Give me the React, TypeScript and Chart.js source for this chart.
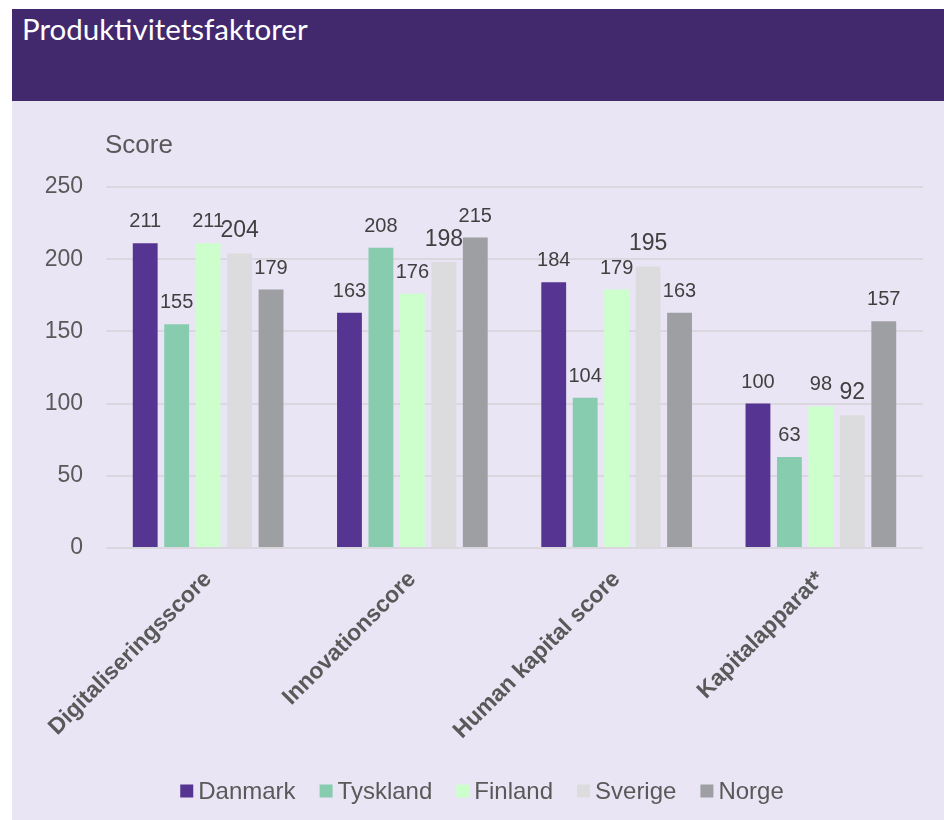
import React, { useEffect, useRef } from "react";
import { Chart, registerables } from "chart.js";

Chart.register(...registerables);

const headerTitle = "Produktivitetsfaktorer";
const axisTitle = "Score";
const categories = ["Digitaliseringsscore", "Innovationscore", "Human kapital score", "Kapitalapparat*"];
const countries = ["Danmark", "Tyskland", "Finland", "Sverige", "Norge"];
const danmark = [211, 163, 184, 100];
const tyskland = [155, 208, 104, 63];
const finland = [211, 176, 179, 98];
const sverige = [204, 198, 195, 92];
const norge = [179, 215, 163, 157];
const seriesColors = ["#563592", "#88ccb0", "#ccffcc", "#dcdcde", "#9e9fa3"];
const yMin = 0;
const yMax = 250;
const yStep = 50;

const FONT = '"Liberation Sans", Arial, sans-serif';
const GRID = "#dbd7df";
const TEXT = "#595959";

const valueLabels = {
  id: "valueLabels",
  afterDatasetsDraw(chart: any) {
    const ctx = chart.ctx;
    chart.data.datasets.forEach((ds: any, i: number) => {
      const meta = chart.getDatasetMeta(i);
      const size = i === 3 ? 23 : 20;
      ctx.save();
      ctx.font = `${size}px ${FONT}`;
      ctx.fillStyle = "#404040";
      ctx.textAlign = "center";
      ctx.textBaseline = "alphabetic";
      meta.data.forEach((bar: any, j: number) => {
        ctx.fillText(String(ds.data[j]), bar.x, bar.y - 16);
      });
      ctx.restore();
    });
  },
};

const scoreTitle = {
  id: "scoreTitle",
  afterDraw(chart: any) {
    const ctx = chart.ctx;
    const a = chart.chartArea;
    ctx.save();
    ctx.font = `26px ${FONT}`;
    ctx.fillStyle = TEXT;
    ctx.textAlign = "left";
    ctx.textBaseline = "alphabetic";
    ctx.fillText(axisTitle, a.left - 1, a.top - 34);
    ctx.restore();
  },
};

const customLegend = {
  id: "customLegend",
  afterDraw(chart: any) {
    const ctx = chart.ctx;
    const box = 13;
    const gapText = 5;
    const gapItem = 24;
    ctx.save();
    ctx.font = `24px ${FONT}`;
    const items = chart.data.datasets.map((ds: any) => ({
      label: ds.label,
      color: ds.backgroundColor,
      w: ctx.measureText(ds.label).width,
    }));
    const total =
      items.reduce((s: number, it: any) => s + box + gapText + it.w, 0) + gapItem * (items.length - 1);
    let x = chart.width / 2 + 4 - total / 2;
    const cy = chart.height - 29;
    ctx.textBaseline = "middle";
    ctx.textAlign = "left";
    items.forEach((it: any) => {
      ctx.fillStyle = it.color;
      ctx.fillRect(x, cy - box / 2, box, box);
      x += box + gapText;
      ctx.fillStyle = TEXT;
      ctx.fillText(it.label, x, cy + 1);
      x += it.w + gapItem;
    });
    ctx.restore();
  },
};

export default function App() {
  const ref = useRef<HTMLCanvasElement | null>(null);

  useEffect(() => {
    if (!ref.current) return;
    const series = [danmark, tyskland, finland, sverige, norge];
    const chart = new Chart(ref.current, {
      type: "bar",
      data: {
        labels: categories,
        datasets: countries.map((c, i) => ({
          label: c,
          data: series[i],
          backgroundColor: seriesColors[i],
          borderWidth: 0,
          categoryPercentage: 0.77,
          barPercentage: 0.79,
        })),
      },
      options: {
        animation: false,
        responsive: false,
        maintainAspectRatio: false,
        layout: { padding: { top: 86, right: 21, bottom: 60, left: 0 } },
        plugins: {
          legend: { display: false },
          tooltip: { enabled: false },
          title: { display: false },
        },
        scales: {
          x: {
            grid: { display: false },
            border: { display: false },
            ticks: {
              minRotation: 45,
              maxRotation: 45,
              padding: 10,
              color: TEXT,
              font: { family: FONT, size: 23, weight: "bold" },
            },
            afterFit(scale: any) {
              scale.height = 212;
            },
          },
          y: {
            min: yMin,
            max: yMax,
            ticks: {
              stepSize: yStep,
              padding: 23,
              color: TEXT,
              font: { family: FONT, size: 23 },
            },
            grid: { color: GRID, lineWidth: 2, drawTicks: false },
            border: { display: false },
            afterFit(scale: any) {
              scale.width = 94;
            },
          },
        },
      },
      plugins: [valueLabels, scoreTitle, customLegend],
    } as any);
    return () => chart.destroy();
  }, []);

  return (
    <div
      style={{
        position: "absolute",
        left: 0,
        top: 0,
        width: 944,
        height: 820,
        overflow: "hidden",
        background: "#ffffff",
      }}
    >
      <div
        style={{
          position: "absolute",
          left: 12,
          top: 9,
          width: 932,
          height: 92,
          background: "#42296e",
        }}
      >
        <span
          style={{
            position: "absolute",
            left: 10,
            top: 5,
            fontFamily: "Lato, sans-serif",
            fontSize: 29.5,
            lineHeight: "29px",
            color: "#ffffff",
            whiteSpace: "nowrap",
          }}
        >
          {headerTitle}
        </span>
      </div>
      <div
        style={{
          position: "absolute",
          left: 12,
          top: 101,
          width: 932,
          height: 719,
          background: "#e9e5f4",
        }}
      >
        <canvas ref={ref} width={932} height={719} style={{ display: "block" }} />
      </div>
    </div>
  );
}
